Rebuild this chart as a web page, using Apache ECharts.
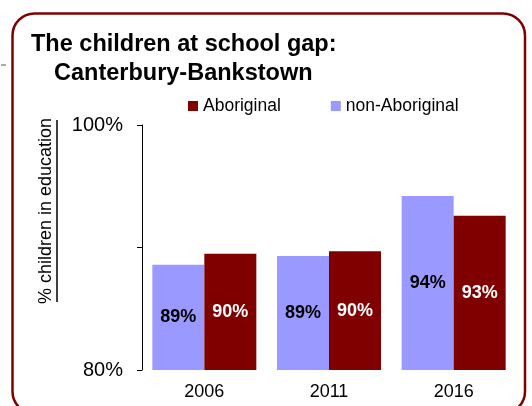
<!DOCTYPE html>
<html>
<head>
<meta charset="utf-8">
<script src="https://cdn.jsdelivr.net/npm/echarts@6/dist/echarts.min.js"></script>
<style>
html,body{margin:0;padding:0;background:#fff;}
#chart{width:532px;height:406px;}
</style>
</head>
<body>
<div id="chart"></div>
<script>
var categories = ['2006', '2011', '2016'];
var nonAboriginal = [88.6, 89.3, 94.2];
var aboriginal = [89.5, 89.7, 92.6];
var nonAboriginalLabels = ['89%', '89%', '94%'];
var aboriginalLabels = ['90%', '90%', '93%'];
var yTicks = [80, 90, 100];
var yTickLabels = ['80%', '', '100%'];

var FONT = '"Liberation Sans", Arial, Helvetica, sans-serif';
var chart = echarts.init(document.getElementById('chart'), null, {renderer: 'canvas'});

function lab(arr) {
  return function (p) { return arr[p.dataIndex]; };
}

chart.setOption({
  backgroundColor: '#ffffff',
  animation: false,
  title: [
    {text: 'The children at school gap:', left: 31, top: 33, padding: 0,
     textStyle: {fontFamily: FONT, fontSize: 23.5, fontWeight: 'bold', color: '#000'}},
    {text: 'Canterbury-Bankstown', left: 54, top: 62, padding: 0,
     textStyle: {fontFamily: FONT, fontSize: 23.5, fontWeight: 'bold', color: '#000'}}
  ],
  legend: {
    data: ['Aboriginal', 'non-Aboriginal'],
    left: 188, top: 97, padding: 0,
    icon: 'rect', itemWidth: 10, itemHeight: 10, itemGap: 50,
    textStyle: {fontFamily: FONT, fontSize: 17.5, color: '#000'}
  },
  grid: {left: 142, right: 16, top: 125, bottom: 36, containLabel: false},
  xAxis: {
    type: 'category',
    data: categories,
    axisLine: {show: false},
    axisTick: {show: false},
    axisLabel: {fontFamily: FONT, fontSize: 18, color: '#000', margin: 13}
  },
  yAxis: {
    type: 'value',
    min: 80, max: 100, interval: 10,
    axisLine: {show: true, lineStyle: {color: '#000', width: 1}},
    axisTick: {show: true, length: 5, inside: false, lineStyle: {color: '#000', width: 1}},
    splitLine: {show: false},
    axisLabel: {
      fontFamily: FONT, fontSize: 20, color: '#000', margin: 19,
      formatter: function (v) { var i = yTicks.indexOf(v); return i >= 0 ? yTickLabels[i] : ''; }
    }
  },
  series: [
    {
      name: 'non-Aboriginal', type: 'bar', data: nonAboriginal,
      barWidth: 52, barGap: '0%',
      itemStyle: {color: '#9999FF'},
      label: {show: true, position: 'inside', formatter: lab(nonAboriginalLabels),
              fontFamily: FONT, fontSize: 18, fontWeight: 'bold', color: '#000'}
    },
    {
      name: 'Aboriginal', type: 'bar', data: aboriginal,
      barWidth: 52, barGap: '0%',
      itemStyle: {color: '#800000'},
      label: {show: true, position: 'inside', formatter: lab(aboriginalLabels),
              fontFamily: FONT, fontSize: 18, fontWeight: 'bold', color: '#fff'}
    }
  ],
  graphic: [
    {type: 'rect', shape: {x: 12.5, y: 13.5, width: 512.5, height: 400, r: 22},
     style: {fill: 'none', stroke: '#800000', lineWidth: 2.5}, silent: true, z: 10},
    {type: 'line', shape: {x1: 1, y1: 65, x2: 6, y2: 65},
     style: {stroke: '#555', lineWidth: 1}, silent: true},
    {type: 'text', x: 46, y: 211, rotation: Math.PI / 2,
     style: {text: '% children in education', fontFamily: FONT, fontSize: 18, fill: '#000',
             align: 'center', verticalAlign: 'middle'}},
    {type: 'line', shape: {x1: 57, y1: 120, x2: 57, y2: 302},
     style: {stroke: '#000', lineWidth: 1.5}, silent: true}
  ]
});
</script>
</body>
</html>
